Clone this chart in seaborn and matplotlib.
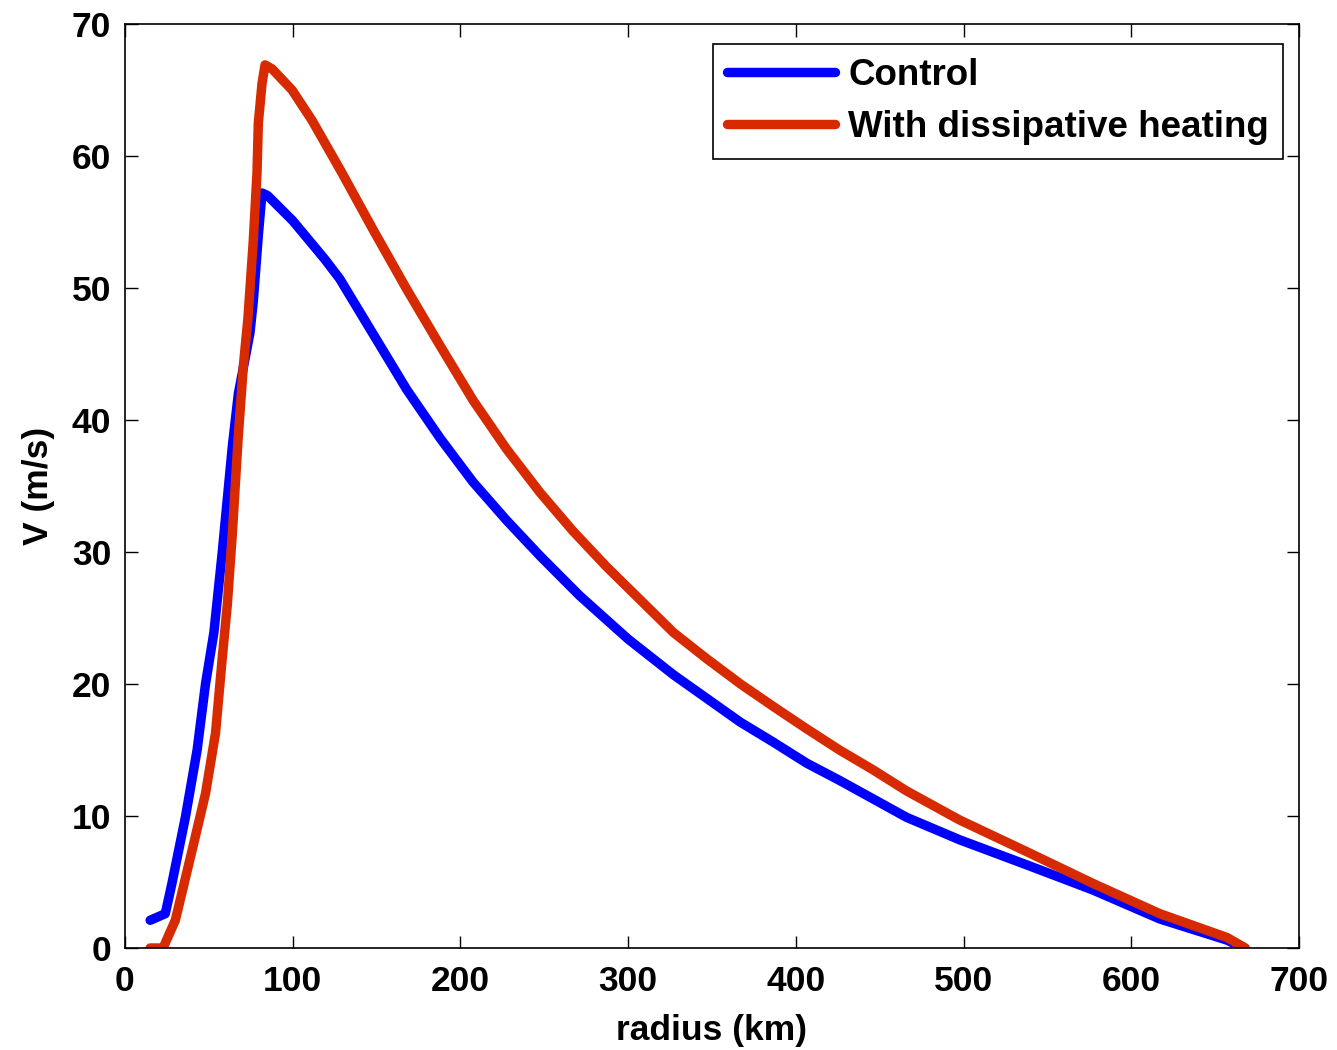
import matplotlib
matplotlib.use("Agg")
import matplotlib.pyplot as plt
import seaborn as sns
import pandas as pd

# Control run
r_control = [15, 24, 28, 36, 43, 48, 53, 58, 64, 67.6, 74.5, 76.5, 79.5, 81.7, 85, 100,
             119, 128, 148, 168, 188, 207.5, 227.5, 247.5, 271, 300, 327, 347, 367,
             386.5, 406.5, 426, 446, 466, 497.6, 537.6, 577, 617, 657, 667]
v_control = [2.1, 2.6, 4.9, 9.9, 15, 20, 23.9, 30, 38, 42, 46.6, 49, 54, 57.2, 57.0, 55.1,
             52.2, 50.7, 46.5, 42.3, 38.6, 35.3, 32.4, 29.7, 26.7, 23.4, 20.7, 18.9, 17.1,
             15.6, 14.0, 12.7, 11.3, 9.9, 8.2, 6.3, 4.4, 2.2, 0.6, 0]

# With dissipative heating
r_heat = [15, 22.7, 30, 40, 48, 54, 58, 61, 64, 67.4, 70.5, 73.3, 76.5, 78.7, 79.5, 81.7,
          83.5, 87.7, 99.6, 111.5, 129, 148, 168, 188, 207.5, 227.5, 247.5, 267, 287,
          307, 327, 347, 367, 386.5, 406.5, 426, 446, 466, 497.6, 537.6, 577, 617, 657, 668]
v_heat = [0, 0, 2.1, 7.4, 11.7, 16.3, 22, 26, 31.4, 38.5, 44, 47.7, 53.6, 58.7, 62.5, 65.5,
          66.9, 66.6, 65, 62.7, 58.8, 54.4, 49.9, 45.6, 41.5, 37.8, 34.5, 31.6, 28.9,
          26.4, 23.9, 21.9, 20.0, 18.3, 16.6, 15.0, 13.5, 11.9, 9.7, 7.3, 4.9, 2.6, 0.8, 0]

labels = ["Control", "With dissipative heating"]
colors = ["#0000FF", "#D82A00"]

x_ticks = [0, 100, 200, 300, 400, 500, 600, 700]
y_ticks = [0, 10, 20, 30, 40, 50, 60, 70]

df = pd.concat([
    pd.DataFrame({"radius": r_control, "V": v_control, "run": labels[0]}),
    pd.DataFrame({"radius": r_heat, "V": v_heat, "run": labels[1]}),
], ignore_index=True)

sns.set_style("ticks")
plt.rcParams["font.family"] = ["Liberation Sans", "DejaVu Sans"]
plt.rcParams["font.weight"] = "bold"
plt.rcParams["text.color"] = "black"
plt.rcParams["axes.labelcolor"] = "black"
plt.rcParams["xtick.color"] = "black"
plt.rcParams["ytick.color"] = "black"

FS = 25.5
LFS = 26.5

fig = plt.figure(figsize=(13.37, 10.5), dpi=100)
ax = fig.add_axes([125/1337, 1 - 948/1050, 1174/1337, 924/1050])

sns.lineplot(data=df, x="radius", y="V", hue="run", hue_order=labels,
             palette=colors, sort=False, estimator=None, linewidth=6.8, ax=ax,
             legend=True)

ax.set_xlim(0, 700)
ax.set_ylim(0, 70)
ax.set_xticks(x_ticks)
ax.set_yticks(y_ticks)
ax.set_xticklabels([str(t) for t in x_ticks], fontsize=FS, fontweight="bold")
ax.set_yticklabels([str(t) for t in y_ticks], fontsize=FS, fontweight="bold")
ax.tick_params(axis="both", direction="in", length=9, width=1, top=True, right=True,
               colors="black")
ax.tick_params(axis="x", pad=12)
ax.tick_params(axis="y", pad=10)
for s in ax.spines.values():
    s.set_visible(True)
    s.set_linewidth(1.2)
    s.set_color("black")

ax.set_xlabel("radius (km)", fontsize=FS, fontweight="bold", labelpad=12)
ax.set_ylabel("V (m/s)", fontsize=FS, fontweight="bold", labelpad=12)

leg = ax.legend(loc="upper right", bbox_to_anchor=((1283-125)/1174, (948-44)/924),
                borderaxespad=0, fancybox=False, framealpha=1, edgecolor="black",
                prop={"size": LFS, "weight": "bold"}, handlelength=2.95,
                borderpad=0.38, labelspacing=0.45, handletextpad=0.35)
leg.get_frame().set_linewidth(1.2)
for line in leg.get_lines():
    line.set_linewidth(6.8)

fig.savefig("out.png", dpi=100)
